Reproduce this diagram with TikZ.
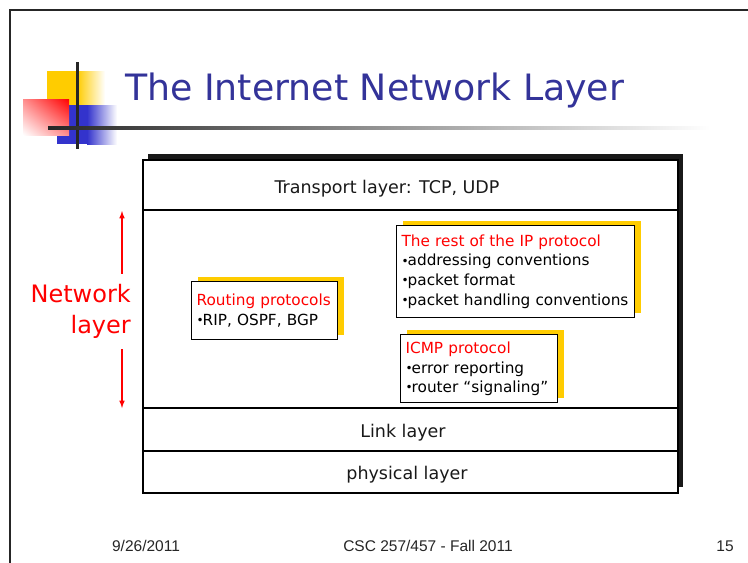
\documentclass[tikz,border=0pt]{standalone}
\usepackage{fontspec}
\setmainfont{DejaVu Sans}
\newfontfamily\footfont{Liberation Sans}
\usetikzlibrary{positioning, shadows, shadings}
\definecolor{titleblue}{RGB}{51,51,153}
\definecolor{noteyellow}{RGB}{255,204,0}
\definecolor{decoblue}{RGB}{51,51,204}
\tikzset{
    stack/.style={draw, line width=1.2pt, fill=white, inner sep=0pt,
        drop shadow={fill=black!90, opacity=1, shadow xshift=5pt, shadow yshift=6pt}},
    layer/.style={anchor=base, text=black!90, font=\fontsize{17.5}{21}\selectfont},
    note/.style={draw, line width=1.2pt, fill=white, align=left, anchor=north west,
        inner xsep=5pt, inner ysep=2pt, font=\fontsize{15.3}{19.7}\selectfont,
        drop shadow={fill=noteyellow, opacity=1, shadow xshift=6pt, shadow yshift=5pt}},
    netlabel/.style={text=red, align=right, inner xsep=0pt, inner ysep=10.5pt,
        font=\fontsize{24}{31}\selectfont},
    netarrow/.style={-latex, red, line width=1.5pt},
    footer/.style={anchor=base, text=black!85, font=\footfont\fontsize{15.5}{18}\selectfont} }
\newcommand{\bul}{\raisebox{0.1ex}{\fontsize{12}{12}\selectfont •}\kern-1pt}
\newcommand{\red}[1]{\textcolor{red}{#1}}

\begin{document}
\begin{tikzpicture}[x=1pt, y=-1pt, node distance=16pt]
    \useasboundingbox[fill=white] (0,0) rectangle (748,563);
    % slide frame and title decoration
    \draw[line width=2.5pt, black!85] (10,563) -- (10,10) -- (748,10);
    \fill[noteyellow] (47,71) rectangle (77,105);
    \shade[left color=noteyellow, right color=white] (77,71) rectangle (105,105);
    \fill[decoblue] (57,105) rectangle (87,144);
    \shade[left color=decoblue, right color=white] (87,105) rectangle (117,144);
    \shade[upper right=red, lower left=white, upper left=red!45, lower right=red!45]
        (23,99) rectangle (69,135);
    \draw[line width=3pt, black!85] (77,62) -- (77,149);
    \shade[left color=black!85, right color=white] (48,126.5) rectangle (710,129.5);
    \node[anchor=base west, inner sep=0pt, text=titleblue, font=\fontsize{36.3}{40}\selectfont]
        (title) at (125,100) {The Internet Network Layer};
    % ----
    \node[stack, minimum width=535pt, minimum height=333pt] (stack) at (410.5,326.5) {};
    \draw[line width=1.2pt] (stack.west |- 0,210) -- (stack.east |- 0,210);
    \draw[line width=1.2pt] (stack.west |- 0,408) -- (stack.east |- 0,408);
    \draw[line width=1.2pt] (stack.west |- 0,451) -- ([xshift=-2pt]stack.east |- 0,451);
    \node[layer] (tl) at (387,193) {Transport layer: TCP, UDP};
    \node[layer] (ll) at (403,437) {Link layer};
    \node[layer] (pl) at (407,479) {physical layer};
    % ----
    \node[note, text width=136pt, minimum height=58pt] (rp) at (191,281)
        {\red{Routing protocols}\\\bul RIP, OSPF, BGP};
    \node[note, text width=228pt, minimum height=92pt] (ip) at (396,225)
        {\red{The rest of the IP protocol}\\\bul addressing conventions\\
         \bul packet format\\\bul packet handling conventions};
    \node[note, text width=147pt, minimum height=68pt, below right=16pt and 4pt of ip.south west]
        (icmp) {\red{ICMP protocol}\\\bul error reporting\\\bul router “signaling”};
    % ----
    \node[netlabel, anchor=east] (nl) at (131,311.5) {Network\\layer};
    \coordinate (nltop) at (122,211);
    \coordinate (nlbot) at (122,408);
    \draw[netarrow] (nltop |- nl.north) -- (nltop);
    \draw[netarrow] (nlbot |- nl.south) -- (nlbot);
    % ----
    \node[footer] (date) at (146,551) {9/26/2011};
    \node[footer] (course) at (428,551) {CSC 257/457 - Fall 2011};
    \node[footer] (page) at (725,551) {15};
\end{tikzpicture}
\end{document}
